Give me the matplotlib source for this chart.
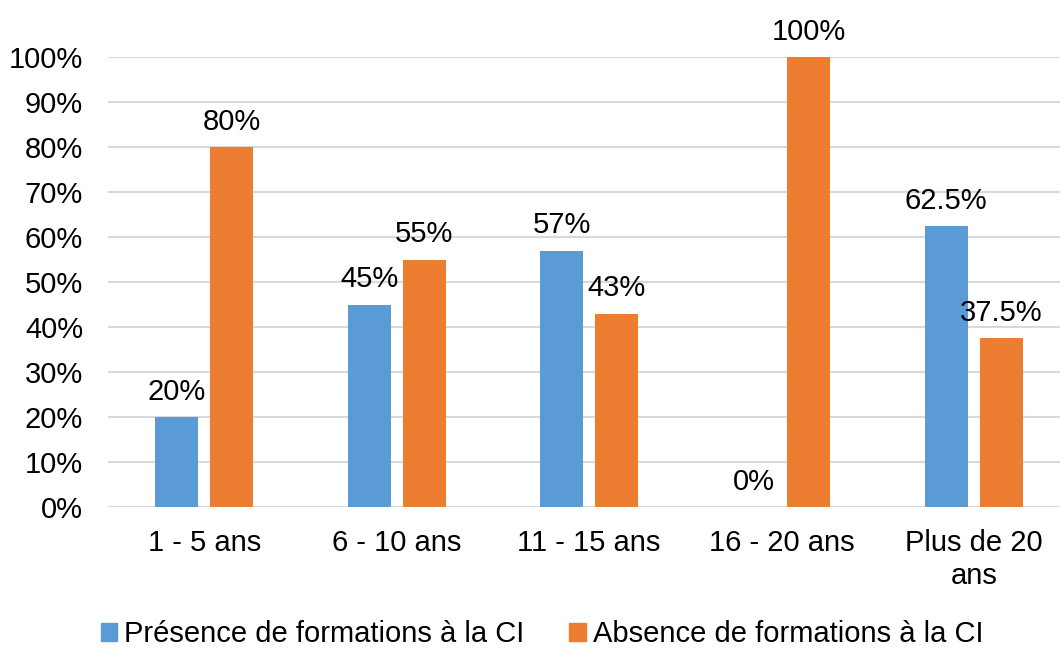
import matplotlib.pyplot as plt
import numpy as np
from matplotlib.patches import Patch

plt.rcParams['font.family'] = ['Liberation Sans', 'DejaVu Sans']

categories = ["1 - 5 ans", "6 - 10 ans", "11 - 15 ans", "16 - 20 ans", "Plus de 20\nans"]
presence = [20, 45, 57, 0, 62.5]
absence = [80, 55, 43, 100, 37.5]
presence_labels = ["20%", "45%", "57%", "0%", "62.5%"]
absence_labels = ["80%", "55%", "43%", "100%", "37.5%"]
series_names = ["Présence de formations à la CI", "Absence de formations à la CI"]

blue = '#5B9BD5'
orange = '#ED7D31'
fs = 21

fig = plt.figure(figsize=(10.6, 6.48), dpi=100)
# plot area runs a bit past the right edge of the figure
ax = fig.add_axes([108 / 1060, (648 - 507) / 648, 962 / 1060, 450 / 648])

x = np.arange(len(categories))
w = 0.223
off = 0.143

ax.bar(x - off, [v / 100 for v in presence], w, color=blue, zorder=3)
ax.bar(x + off, [v / 100 for v in absence], w, color=orange, zorder=3)

for i in range(len(categories)):
    ax.annotate(presence_labels[i], (x[i] - off, presence[i] / 100), xytext=(0, 8),
                textcoords='offset points', ha='center', va='bottom', fontsize=fs)
    ax.annotate(absence_labels[i], (x[i] + off, absence[i] / 100), xytext=(0, 8),
                textcoords='offset points', ha='center', va='bottom', fontsize=fs)

ax.set_xlim(-0.5, len(categories) - 0.5)
ax.set_ylim(0, 1)
ax.set_yticks(np.arange(0, 1.01, 0.1))
ax.set_yticklabels([f"{int(round(t * 100))}%" for t in np.arange(0, 1.01, 0.1)])
ax.set_xticks(x)
ax.set_xticklabels(categories, linespacing=1.2)
ax.tick_params(axis='both', length=0, labelsize=fs)
ax.tick_params(axis='x', pad=16)
ax.tick_params(axis='y', pad=18)

ax.grid(axis='y', color='#D9D9D9', linewidth=1.5, zorder=0)
for s in ax.spines.values():
    s.set_visible(False)

handles = [Patch(color=blue), Patch(color=orange)]
fig.legend(handles, series_names, loc='center', bbox_to_anchor=(542 / 1060, 1 - 634 / 648),
           ncol=2, frameon=False, fontsize=fs, handlelength=0.56, handleheight=0.56,
           handletextpad=0.24, columnspacing=1.54, borderpad=0)

plt.savefig("out.png", dpi=100)
